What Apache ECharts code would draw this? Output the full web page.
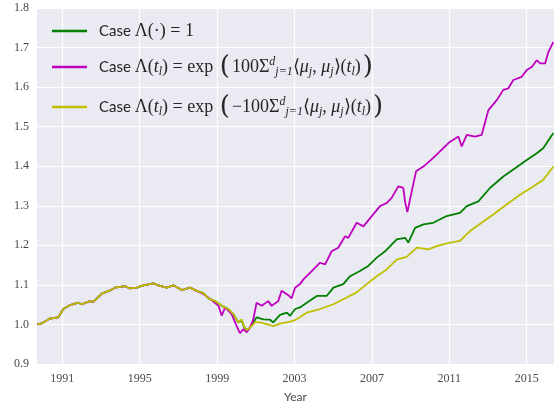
<!DOCTYPE html>
<html>
<head>
<meta charset="utf-8">
<script src="https://cdn.jsdelivr.net/npm/echarts@6/dist/echarts.min.js"></script>
<style>html,body{margin:0;padding:0;background:#fff}#c{width:554px;height:408px}</style>
</head>
<body>
<div id="c"></div>
<script>
// shared early history (all three curves overlap until ~2000)
const commonEarly = [
  [1989.71,1.000],[1989.94,1.003],[1990.36,1.015],[1990.79,1.018],[1991.05,1.039],[1991.40,1.049],
  [1991.83,1.055],[1992.00,1.051],[1992.43,1.059],[1992.60,1.057],[1993.04,1.078],[1993.47,1.086],
  [1993.72,1.093],[1994.24,1.097],[1994.50,1.091],[1994.85,1.093],[1995.19,1.099],[1995.70,1.104],
  [1995.96,1.099],[1996.39,1.093],[1996.74,1.099],[1997.17,1.087],[1997.60,1.093],[1997.95,1.085]
];
const yellowLate = [
  [1998.29,1.079],[1998.55,1.066],[1998.89,1.059],[1999.24,1.047],[1999.58,1.039],[1999.84,1.026],
  [2000.10,1.005],[2000.27,1.013],[2000.39,0.996],[2000.53,0.986],[2000.70,0.992],[2000.96,1.005],
  [2001.22,1.005],[2001.56,1.001],[2001.90,0.996],[2002.25,1.002],[2002.60,1.005],[2002.94,1.009],
  [2003.28,1.018],[2003.63,1.030],[2004.32,1.039],[2005.01,1.051],[2005.70,1.068],[2006.21,1.081],
  [2006.73,1.102],[2007.25,1.122],[2007.76,1.139],[2008.28,1.164],[2008.80,1.171],[2009.32,1.194],
  [2009.92,1.190],[2010.35,1.198],[2011.04,1.207],[2011.55,1.211],[2012.07,1.236],[2012.67,1.257],
  [2013.27,1.278],[2013.96,1.303],[2014.65,1.328],[2015.34,1.349],[2015.86,1.366],[2016.38,1.399]
];
const magentaLate = [
  [1998.29,1.077],[1998.65,1.064],[1999.07,1.047],[1999.24,1.022],[1999.41,1.043],[1999.75,1.026],
  [2000.01,0.996],[2000.18,0.978],[2000.36,0.988],[2000.53,0.980],[2000.70,0.992],[2000.87,1.013],
  [2001.04,1.055],[2001.30,1.047],[2001.64,1.059],[2001.82,1.047],[2002.16,1.059],[2002.33,1.085],
  [2002.68,1.074],[2002.85,1.066],[2003.03,1.093],[2003.28,1.102],[2003.46,1.114],[2003.89,1.135],
  [2004.32,1.156],[2004.58,1.152],[2004.92,1.185],[2005.26,1.194],[2005.61,1.223],[2005.78,1.219],
  [2006.21,1.257],[2006.56,1.248],[2006.99,1.274],[2007.42,1.299],[2007.76,1.307],[2008.02,1.320],
  [2008.36,1.349],[2008.62,1.345],[2008.71,1.311],[2008.83,1.284],[2009.06,1.337],[2009.28,1.387],
  [2009.66,1.399],[2010.17,1.421],[2010.69,1.446],[2011.04,1.462],[2011.47,1.475],[2011.64,1.450],
  [2011.90,1.479],[2012.33,1.475],[2012.67,1.479],[2013.02,1.542],[2013.45,1.567],[2013.79,1.593],
  [2014.05,1.597],[2014.31,1.618],[2014.74,1.626],[2015.00,1.643],[2015.26,1.651],[2015.52,1.668],
  [2015.69,1.660],[2015.95,1.660],[2016.12,1.689],[2016.38,1.714]
];
const greenLate = [
  [1998.29,1.079],[1998.55,1.066],[1998.89,1.059],[1999.24,1.047],[1999.58,1.039],[1999.84,1.026],
  [2000.10,1.005],[2000.27,1.010],[2000.39,0.994],[2000.53,0.986],[2000.70,0.992],[2000.87,1.005],
  [2001.04,1.018],[2001.39,1.013],[2001.73,1.012],[2001.90,1.005],[2002.25,1.024],[2002.60,1.030],
  [2002.77,1.022],[2003.03,1.039],[2003.28,1.043],[2003.63,1.055],[2004.15,1.072],[2004.66,1.072],
  [2005.01,1.093],[2005.52,1.102],[2005.87,1.122],[2006.38,1.135],[2006.81,1.148],[2007.25,1.169],
  [2007.68,1.185],[2008.28,1.215],[2008.71,1.219],[2008.88,1.207],[2009.23,1.244],[2009.66,1.253],
  [2010.17,1.257],[2010.86,1.274],[2011.55,1.282],[2011.90,1.299],[2012.50,1.311],[2013.10,1.345],
  [2013.79,1.374],[2014.40,1.395],[2015.00,1.416],[2015.52,1.433],[2015.86,1.446],[2016.38,1.484]
];
const xTicks = [1991,1995,1999,2003,2007,2011,2015];
const seriesNames = ['green','magenta','yellow'];
const seriesColors = ['#008000','#BF00BF','#BFBF00'];
const seriesData = [commonEarly.concat(greenLate), commonEarly.concat(magentaLate), commonEarly.concat(yellowLate)];

const legendLabels = {
  green: '{s|Case }{m|Λ(·) = 1}',
  magenta: '{s|Case }{m|Λ(}{i|t}{sub|l}{m|) = exp }{big|(}{m|100}{m|Σ}{sup|d}{sub|j=1}{m|⟨}{i|μ}{sub|j}{m|, }{i|μ}{sub|j}{m|⟩(}{i|t}{sub|l}{m|)}{big|)}',
  yellow: '{s|Case }{m|Λ(}{i|t}{sub|l}{m|) = exp }{big|(}{m|−100}{m|Σ}{sup|d}{sub|j=1}{m|⟨}{i|μ}{sub|j}{m|, }{i|μ}{sub|j}{m|⟩(}{i|t}{sub|l}{m|)}{big|)}'
};
const serif = 'Liberation Serif';
const chart = echarts.init(document.getElementById('c'), null, {renderer:'canvas'});
chart.setOption({
  animation:false,
  backgroundColor:'#ffffff',
  grid:{left:37, top:8, right:0, bottom:43, show:true, backgroundColor:'#EAEAF2', borderWidth:0},
  xAxis:{
    type:'value', min:1989.69, max:2016.41,
    axisLine:{show:false},
    axisTick:{show:false, customValues:xTicks},
    axisLabel:{customValues:xTicks, fontFamily:serif, fontSize:12, color:'#4a4a4a', margin:9, formatter:v=>String(v)},
    splitLine:{show:true, lineStyle:{color:'#ffffff', width:1.2}},
    name:'Year', nameLocation:'middle', nameGap:27,
    nameTextStyle:{fontFamily:'Lato', fontSize:12, color:'#4a4a4a'}
  },
  yAxis:{
    type:'value', min:0.9, max:1.8, interval:0.1,
    axisLine:{show:false}, axisTick:{show:false},
    axisLabel:{fontFamily:serif, fontSize:12, color:'#4a4a4a', margin:8, formatter:v=>v.toFixed(1)},
    splitLine:{show:true, lineStyle:{color:'#ffffff', width:1.2}}
  },
  legend:{
    orient:'vertical', left:47, top:17, itemWidth:35, itemHeight:2.5, itemGap:14,
    icon:'rect',
    data:seriesNames,
    formatter:n=>legendLabels[n],
    textStyle:{
      color:'#262626',
      rich:{
        s:{fontFamily:'Lato', fontSize:15, color:'#262626', lineHeight:28, padding:[0,0,0,7]},
        m:{fontFamily:serif, fontSize:18, color:'#262626', lineHeight:28},
        i:{fontFamily:serif, fontStyle:'italic', fontSize:18, color:'#262626', lineHeight:28},
        sub:{fontFamily:serif, fontStyle:'italic', fontSize:12, color:'#262626', lineHeight:12, padding:[10,0,0,0]},
        sup:{fontFamily:serif, fontStyle:'italic', fontSize:12, color:'#262626', lineHeight:12, padding:[0,0,10,0]},
        big:{fontFamily:'DejaVu Serif', fontSize:26, color:'#262626', lineHeight:28, padding:[0,2,0,2]}
      }
    }
  },
  series: seriesNames.map((n,k)=>({
    name:n, type:'line', data:seriesData[k], symbol:'none', smooth:false,
    lineStyle:{color:seriesColors[k], width:1.8}, itemStyle:{color:seriesColors[k]}
  }))
});
</script>
</body>
</html>
